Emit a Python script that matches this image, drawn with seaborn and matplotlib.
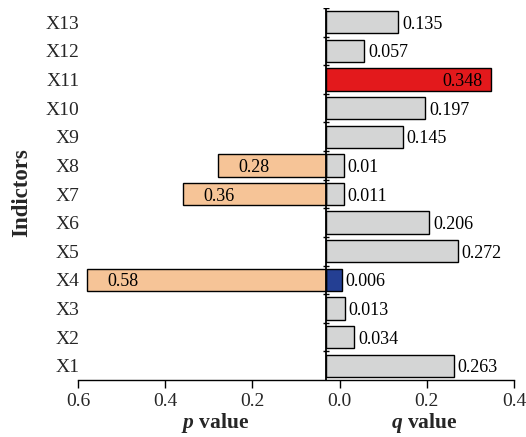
import numpy as np
import pandas as pd
import matplotlib
matplotlib.use("Agg")
import matplotlib.pyplot as plt
import seaborn as sns

# ---- data ----
indicators = ["X1", "X2", "X3", "X4", "X5", "X6", "X7", "X8", "X9", "X10", "X11", "X12", "X13"]
q_values = [0.263, 0.034, 0.013, 0.006, 0.272, 0.206, 0.011, 0.010, 0.145, 0.197, 0.348, 0.057, 0.135]
q_labels = ["0.263", "0.034", "0.013", "0.006", "0.272", "0.206", "0.011", "0.01", "0.145", "0.197", "0.348", "0.057", "0.135"]
p_indicators = ["X4", "X7", "X8"]
p_values = [0.58, 0.36, 0.28]
p_labels = ["0.58", "0.36", "0.28"]
x_ticks = [-0.6, -0.4, -0.2, 0.0, 0.2, 0.4]
x_ticklabels = ["0.6", "0.4", "0.2", "0.0", "0.2", "0.4"]

# ---- style ----
GRAY = "#d4d5d5"
RED = "#e3191c"
BLUE = "#243f93"
PEACH = "#f6c497"
CENTER = -0.032  # position of the vertical divider line

sns.set_theme(style="white")
plt.rcParams["font.family"] = ["Liberation Serif", "DejaVu Serif"]
plt.rcParams["mathtext.fontset"] = "custom"
plt.rcParams["mathtext.it"] = "Liberation Serif:italic:bold"
plt.rcParams["mathtext.rm"] = "Liberation Serif:bold"

fig = plt.figure(figsize=(5.26, 4.37), dpi=100)
ax = fig.add_axes([78 / 526, 57 / 437, 436 / 526, 372 / 437])

order = indicators[::-1]  # X13 at top
pos = {name: i for i, name in enumerate(order)}

q_df = pd.DataFrame({"ind": indicators, "q": q_values})
p_df = pd.DataFrame({"ind": p_indicators, "p": [-v for v in p_values]})

n0 = len(ax.patches)
sns.barplot(data=q_df, x="q", y="ind", order=order, color=GRAY, saturation=1,
            width=0.78, edgecolor="black", linewidth=1.0, ax=ax)
q_patches = ax.patches[n0:]
qmap = dict(zip(indicators, q_values))
for patch in q_patches:
    yc = patch.get_y() + patch.get_height() / 2
    name = order[int(round(yc))]
    val = qmap[name]
    patch.set_x(CENTER)
    patch.set_width(val - CENTER)
    if name == "X11":
        patch.set_facecolor(RED)
    elif name == "X4":
        patch.set_facecolor(BLUE)

n1 = len(ax.patches)
sns.barplot(data=p_df, x="p", y="ind", order=order, color=PEACH, saturation=1,
            width=0.78, edgecolor="black", linewidth=1.0, ax=ax)
pmap = dict(zip(p_indicators, p_values))
for patch in ax.patches[n1:]:
    yc = patch.get_y() + patch.get_height() / 2
    name = order[int(round(yc))]
    val = pmap[name]
    patch.set_x(-val)
    patch.set_width(val + CENTER)

# divider line with crossing ticks at category boundaries
ax.axvline(CENTER, color="black", lw=1.3, zorder=5)
ax.hlines(np.arange(-0.5, len(order) - 0.5, 1.0), CENTER - 0.007, CENTER + 0.007,
          color="black", lw=1.0, zorder=5)

# value labels
for name, val, lab in zip(indicators, q_values, q_labels):
    y = pos[name]
    if name == "X11":
        ax.annotate(lab, xy=(val, y), xytext=(-6, 0), textcoords="offset points",
                    ha="right", va="center_baseline", fontsize=13, color="black")
    else:
        ax.annotate(lab, xy=(val, y), xytext=(2.5, 0), textcoords="offset points",
                    ha="left", va="center_baseline", fontsize=13, color="black")
for name, val, lab in zip(p_indicators, p_values, p_labels):
    y = pos[name]
    ax.annotate(lab, xy=(-val, y), xytext=(26, 0), textcoords="offset points",
                ha="center", va="center_baseline", fontsize=13, color="black")

ax.set_xlim(-0.6, 0.4)
ax.set_ylim(len(order) - 0.5, -0.5)
ax.set_xticks(x_ticks)
ax.set_xticklabels(x_ticklabels, fontsize=14)
ax.set_yticks(range(len(order)))
ax.set_yticklabels(order, fontsize=14)
ax.set_xlabel("")
ax.set_ylabel("")
ax.tick_params(axis="x", direction="out", length=6, width=1, color="black", pad=3,
               bottom=True)
ax.tick_params(axis="y", length=0, pad=-1)
for side in ["top", "right", "left"]:
    ax.spines[side].set_visible(False)
ax.spines["bottom"].set_color("black")
ax.spines["bottom"].set_linewidth(1.0)

ax.annotate(r"$p$ value", xy=(-0.285, 0), xycoords=("data", "axes fraction"),
            xytext=(0, -31), textcoords="offset points", ha="center", va="center",
            fontsize=15.5, fontweight="bold")
ax.annotate(r"$q$ value", xy=(0.195, 0), xycoords=("data", "axes fraction"),
            xytext=(0, -31), textcoords="offset points", ha="center", va="center",
            fontsize=15.5, fontweight="bold")

fig.text(22 / 526, 1 - 193 / 437, "Indictors", rotation=90, ha="center", va="center",
         fontsize=16.5, fontweight="bold")

fig.savefig("out.png", dpi=100)
